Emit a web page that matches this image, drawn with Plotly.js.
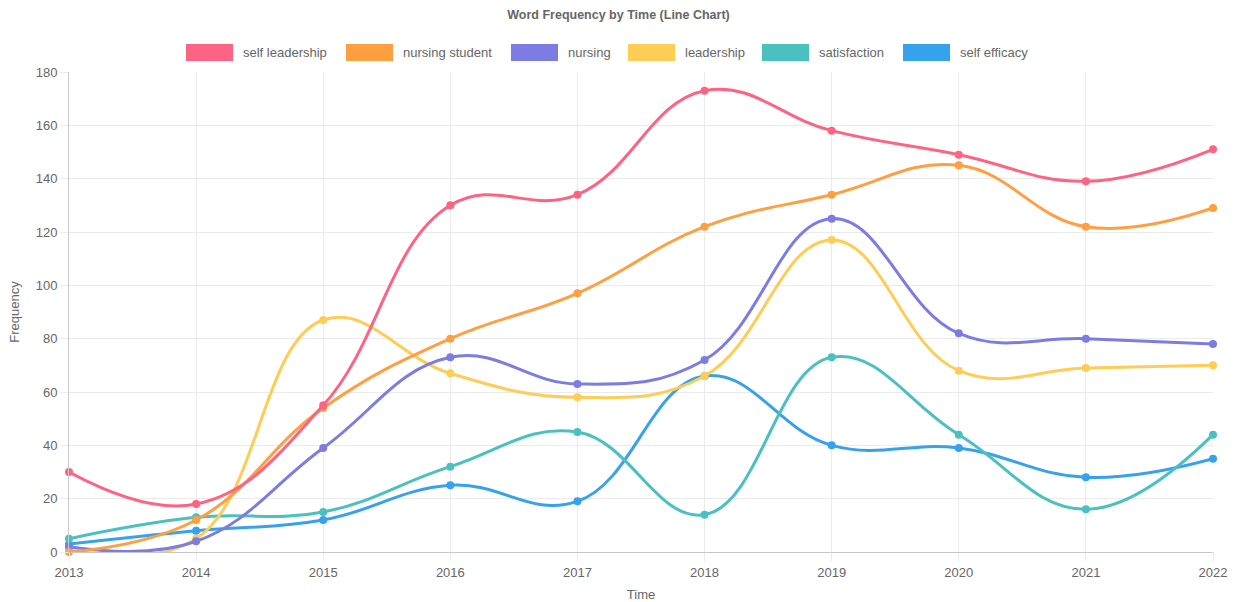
<!DOCTYPE html>
<html>
<head>
<meta charset="utf-8">
<script src="https://cdn.plot.ly/plotly-3.0.1.min.js"></script>
<style>html,body{margin:0;padding:0;background:#fff;}#chart{width:1237px;height:602px;}</style>
</head>
<body>
<div id="chart"></div>
<script>
const years = [2013, 2014, 2015, 2016, 2017, 2018, 2019, 2020, 2021, 2022];
const seriesNames = ["self leadership", "nursing student", "nursing", "leadership", "satisfaction", "self efficacy"];
const seriesColors = ["#ff6384", "#ff9f40", "#7c7ce3", "#ffcd56", "#4bc0c0", "#36a2eb"];
const selfLeadership = [30, 18, 55, 130, 134, 173, 158, 149, 139, 151];
const nursingStudent = [0, 12, 54, 80, 97, 122, 134, 145, 122, 129];
const nursing = [2, 4, 39, 73, 63, 72, 125, 82, 80, 78];
const leadership = [1, 5, 87, 67, 58, 66, 117, 68, 69, 70];
const satisfaction = [5, 13, 15, 32, 45, 14, 73, 44, 16, 44];
const selfEfficacy = [3, 8, 12, 25, 19, 66, 40, 39, 28, 35];
const seriesValues = [selfLeadership, nursingStudent, nursing, leadership, satisfaction, selfEfficacy];

const FONT = "Liberation Sans, Arial, Helvetica, sans-serif";
const traces = [];
for (let i = seriesNames.length - 1; i >= 0; i--) {
  traces.push({
    x: years, y: seriesValues[i], name: seriesNames[i], type: "scatter", mode: "lines+markers",
    line: {color: seriesColors[i], width: 3, shape: "spline", smoothing: 1.2},
    marker: {color: seriesColors[i], size: 8},
    cliponaxis: false, showlegend: false
  });
}

// custom legend (boxes + text), positioned in paper/pixel coords
const legendBoxX = [186, 346, 511, 628, 762, 903];
const shapes = [];
const annotations = [];
const W = 1237, H = 602, ml = 69, mr = 24, mt = 72, mb = 50;
const pw = W - ml - mr, ph = H - mt - mb;
function px2x(p){ return (p - ml) / pw; }
function py2y(p){ return (H - mb - p) / ph; }
for (let i = 0; i < seriesNames.length; i++) {
  shapes.push({type: "rect", xref: "paper", yref: "paper",
    x0: px2x(legendBoxX[i]), x1: px2x(legendBoxX[i] + 47),
    y0: py2y(61), y1: py2y(44), fillcolor: seriesColors[i], line: {width: 0}});
  annotations.push({xref: "paper", yref: "paper", x: px2x(legendBoxX[i] + 55), y: py2y(52.5),
    xanchor: "left", yanchor: "middle", showarrow: false, text: seriesNames[i],
    font: {family: FONT, size: 13, color: "#666"}});
}

const layout = {
  width: W, height: H,
  margin: {l: ml, r: mr, t: mt, b: mb},
  paper_bgcolor: "#fff", plot_bgcolor: "#fff",
  title: {text: "<b>Word Frequency by Time (Line Chart)</b>", x: 0.5, xanchor: "center", y: 1 - 15/H, yanchor: "middle",
    font: {family: FONT, size: 12.5, color: "#666"}},
  showlegend: false,
  xaxis: {range: [2013, 2022], dtick: 1, tick0: 2013, tickformat: "d",
    showgrid: true, gridcolor: "#ebebeb", zeroline: false,
    showline: true, linecolor: "#c8c8c8", linewidth: 1,
    ticks: "outside", ticklen: 8, tickcolor: "#ebebeb",
    tickfont: {family: FONT, size: 13, color: "#666"},
    title: {text: "Time", font: {family: FONT, size: 13, color: "#666"}, standoff: 14}},
  yaxis: {range: [0, 180], dtick: 20, showgrid: true, gridcolor: "#ebebeb", zeroline: false,
    showline: true, linecolor: "#c8c8c8", linewidth: 1,
    ticks: "outside", ticklen: 8, tickcolor: "#ebebeb",
    tickfont: {family: FONT, size: 13, color: "#666"},
    title: {text: "Frequency", font: {family: FONT, size: 13, color: "#666"}, standoff: 13}},
  shapes: shapes, annotations: annotations,
  font: {family: FONT, color: "#666"}
};
Plotly.newPlot("chart", traces, layout, {displayModeBar: false, responsive: false});
</script>
</body>
</html>
